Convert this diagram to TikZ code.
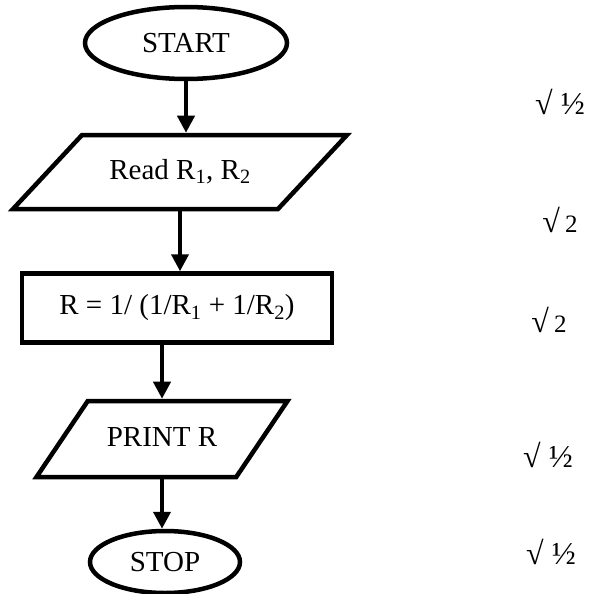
\documentclass[tikz,border=0pt]{standalone}
\usepackage{fontspec}
\setmainfont{Liberation Serif}
\usetikzlibrary{arrows.meta,shapes.geometric,positioning}

\tikzset{
  term/.style={ellipse,draw=black,line width=4.5pt,inner sep=0pt,font=\fontsize{29}{34}\selectfont},
  io/.style={trapezium,draw=black,line width=4.5pt,trapezium stretches body=true,inner xsep=0pt,text height=20pt,text depth=6pt,font=\fontsize{29}{34}\selectfont},
  proc/.style={rectangle,draw=black,line width=4.5pt,inner sep=0pt,font=\fontsize{29}{34}\selectfont},
  flow/.style={line width=4pt,-{Triangle[length=17pt,width=17pt]}},
  checkmark/.style={inner sep=0pt,font=\fontsize{32}{36}\selectfont}
}

\begin{document}
\begin{tikzpicture}[x=1pt,y=-1pt]
\useasboundingbox (0,0) rectangle (589,594);

\node[term,minimum width=202,minimum height=72] (start) at (186,43) {START};
\node[io,inner ysep=24pt,trapezium left angle=47,trapezium right angle=133,minimum width=334] (read) at (180,172) {Read R\textsubscript{1}, R\textsubscript{2}};
\node[proc,minimum width=310,minimum height=69] (calc) at (177,308) {R = 1/ (1/R\textsubscript{1} + 1/R\textsubscript{2})};
\node[io,inner ysep=25pt,trapezium left angle=56,trapezium right angle=124,minimum width=251] (print) at (162,439) {PRINT R};
\node[term,minimum width=150,minimum height=62] (stop) at (165,562) {STOP};

\draw[flow] (start.south) -- (start.south |- read.north);
\draw[flow] (read.south) -- (read.south |- calc.north);
\draw[flow] (calc.south -| print.north) -- (print.north);
\draw[flow] (print.south) -- (print.south |- stop.north);

% marks
\node[checkmark] (c1) at (560,102) {√ ½};
\node[checkmark] (c2) at (560,220) {√\,{\fontsize{25}{28}\selectfont 2}};
\node[checkmark] (c3) at (549,320) {√\,{\fontsize{25}{28}\selectfont 2}};
\node[checkmark] (c4) at (548,455) {√ ½};
\node[checkmark] (c5) at (551,552) {√ ½};
\end{tikzpicture}
\end{document}
